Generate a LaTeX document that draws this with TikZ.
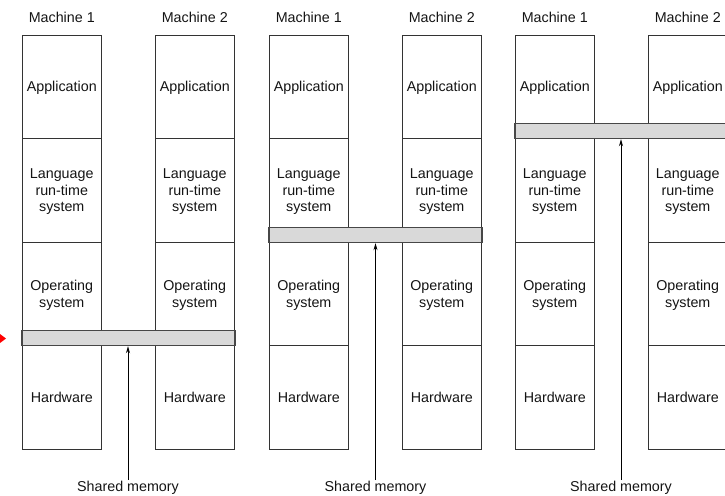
\documentclass[tikz,border=0pt]{standalone}
\usepackage{fontspec}
\setmainfont{Liberation Sans}
\usetikzlibrary{arrows.meta}
\definecolor{bandgray}{HTML}{D9D9D9}
\definecolor{linegray}{HTML}{333333}
\begin{document}
\begin{tikzpicture}[x=1pt,y=-1pt,
  every node/.style={font=\fontsize{14.3}{16.3}\selectfont, text=black!92, inner sep=0pt},
  layerbox/.style={draw=linegray, line width=0.9pt, minimum width=79.5pt, minimum height=103.5pt, align=center, text depth=0pt},
  membar/.style={draw=linegray!90, line width=1.4pt, fill=bandgray, minimum height=15pt},
  memarrow/.style={draw=black, line width=0.8pt, -{Stealth[length=7pt,width=4pt]}},
  lbl/.style={anchor=center}]
\useasboundingbox (0,0) rectangle (725,495);
\clip (0,0) rectangle (725,495);
% red marker at left edge
\fill[red] (0,334) -- (6,338.5) -- (0,343) -- cycle;
\foreach \p/\ox/\b/\ax in {1/0/345/128, 2/247/242/375.5, 3/493/138/621}{
  \foreach \m/\mx in {1/0, 2/133}{
    \node[lbl] (t\p\m) at (\ox+\mx+61.75,17) {Machine \m};
    \node[layerbox] (a\p\m) at (\ox+\mx+61.75,86.75) {Application};
    \node[layerbox] (l\p\m) at (\ox+\mx+61.75,190.25) {Language\\run-time\\system};
    \node[layerbox] (o\p\m) at (\ox+\mx+61.75,293.75) {Operating\\system};
    \node[layerbox] (h\p\m) at (\ox+\mx+61.75,397.25) {Hardware};
  }
  \node[membar, minimum width=213pt] (band\p) at (\ox+128.5,\b-7) {};
  \node[lbl] (sm\p) at (\ax,488) {Shared memory};
  \draw[memarrow] (sm\p.north) ++(0,-1) coordinate (s\p) -- (s\p |- band\p.south);
}
\end{tikzpicture}
\end{document}
